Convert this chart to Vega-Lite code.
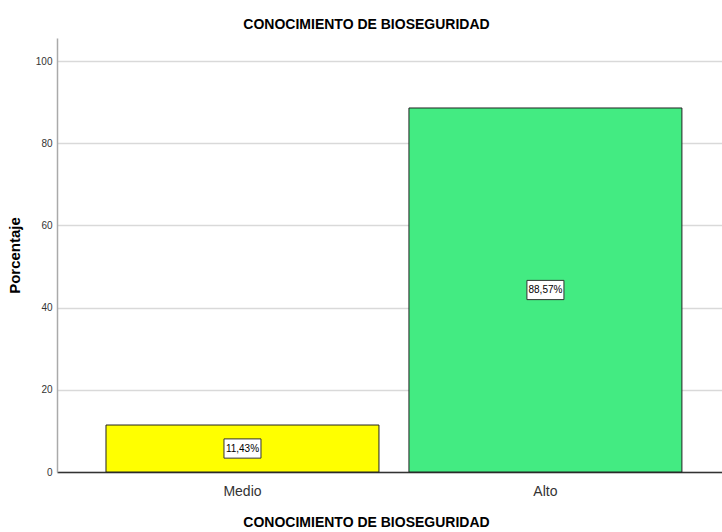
{
  "$schema": "https://vega.github.io/schema/vega-lite/v6.json",
  "width": 665,
  "height": 434,
  "autosize": "none",
  "padding": {"left": 57, "top": 38, "right": 0, "bottom": 60},
  "background": "white",
  "title": {
    "text": "CONOCIMIENTO DE BIOSEGURIDAD",
    "font": "Liberation Sans",
    "fontSize": 14,
    "fontWeight": "bold",
    "color": "#000000",
    "anchor": "middle",
    "dx": -23,
    "offset": 6
  },
  "data": {
    "values": [
      {"nivel": "Medio", "porcentaje": 11.43, "etiqueta": "11,43%"},
      {"nivel": "Alto", "porcentaje": 88.57, "etiqueta": "88,57%"}
    ]
  },
  "transform": [{"calculate": "datum.porcentaje / 2", "as": "mitad"}],
  "encoding": {
    "x": {
      "field": "nivel",
      "type": "nominal",
      "sort": ["Medio", "Alto"],
      "scale": {"paddingInner": 0.099, "paddingOuter": 0.147, "align": 0.55},
      "axis": {
        "title": "CONOCIMIENTO DE BIOSEGURIDAD",
        "titleFont": "Liberation Sans",
        "titleFontSize": 14,
        "titleFontWeight": "bold",
        "titleColor": "#000000",
        "titlePadding": 17,
        "titleX": 309,
        "labelAngle": 0,
        "labelFont": "Liberation Sans",
        "labelFontSize": 14,
        "labelColor": "#333333",
        "labelPadding": 12,
        "ticks": false,
        "domainColor": "#333333",
        "domainWidth": 1.5,
        "grid": false
      }
    }
  },
  "layer": [
    {
      "mark": {"type": "bar", "stroke": "#222222", "strokeWidth": 1},
      "encoding": {
        "y": {
          "field": "porcentaje",
          "type": "quantitative",
          "scale": {"domain": [0, 105.6], "nice": false},
          "axis": {
            "title": "Porcentaje",
            "titleFont": "Liberation Sans",
            "titleFontSize": 15,
            "titleFontWeight": "bold",
            "titleColor": "#000000",
            "titlePadding": 13,
            "values": [0, 20, 40, 60, 80, 100],
            "labelFont": "Liberation Sans",
            "labelFontSize": 10,
            "labelColor": "#333333",
            "labelPadding": 5,
            "ticks": false,
            "domainColor": "#aaaaaa",
            "domainWidth": 1.5,
            "grid": true,
            "gridColor": "#d9d9d9",
            "gridWidth": 1.5
          }
        },
        "color": {
          "field": "nivel",
          "type": "nominal",
          "scale": {"domain": ["Medio", "Alto"], "range": ["#ffff00", "#43eb82"]},
          "legend": null
        }
      }
    },
    {
      "mark": {
        "type": "point",
        "shape": "M-1,-0.52L1,-0.52L1,0.52L-1,0.52Z",
        "size": 1369,
        "filled": true,
        "fill": "#ffffff",
        "stroke": "#333333",
        "strokeWidth": 1,
        "opacity": 1
      },
      "encoding": {
        "y": {"field": "mitad", "type": "quantitative", "scale": {"domain": [0, 105.6], "nice": false}}
      }
    },
    {
      "mark": {"type": "text", "font": "Liberation Sans", "fontSize": 10, "color": "#000000", "baseline": "middle", "align": "center"},
      "encoding": {
        "y": {"field": "mitad", "type": "quantitative", "scale": {"domain": [0, 105.6], "nice": false}},
        "text": {"field": "etiqueta"}
      }
    }
  ],
  "config": {"view": {"stroke": null}}
}
